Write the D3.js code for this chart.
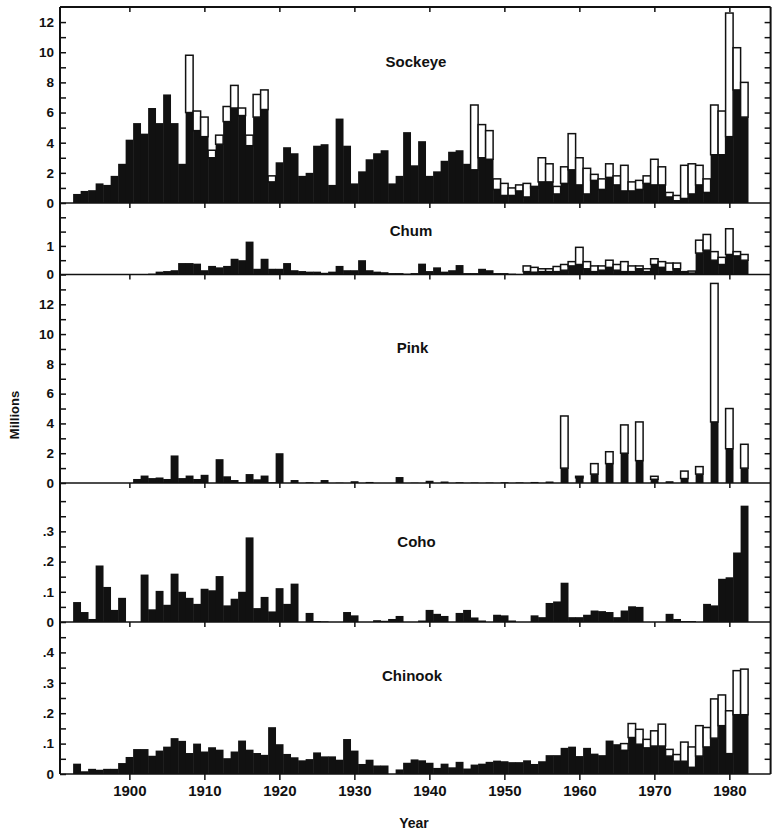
<!DOCTYPE html>
<html>
<head>
<meta charset="utf-8">
<script src="https://cdn.jsdelivr.net/npm/d3@7"></script>
<style>
  body { margin: 0; background: #fff; }
  text { font-family: "Liberation Sans", Arial, sans-serif; fill: #111; }
</style>
</head>
<body>
<svg id="chart" width="781" height="831"></svg>
<script>
// one bar per year, 1893-1982
const years = d3.range(1893, 1983);
const decades = [1900, 1910, 1920, 1930, 1940, 1950, 1960, 1970, 1980];

// black part of each bar, and total height (top of open box)
const sockeyeBlack = [
  0.6, 0.8, 0.85, 1.3, 1.2, 1.8, 2.6,
  4.2, 5.3, 4.6, 6.3, 5.3, 7.2, 5.3, 2.6, 6.0, 4.8,
  4.4, 3.0, 3.9, 5.4, 6.3, 5.8, 3.8, 5.7, 6.2, 1.4,
  2.7, 3.7, 3.3, 1.8, 2.0, 3.8, 3.9, 1.2, 5.6, 3.8,
  1.3, 2.1, 2.9, 3.3, 3.5, 1.3, 1.8, 4.7, 2.5, 4.1,
  1.8, 2.1, 2.8, 3.4, 3.5, 2.6, 2.2, 3.0, 2.9, 0.9,
  0.5, 0.5, 0.8, 0.4, 1.0, 1.4, 1.4, 0.6, 1.3, 2.2,
  1.2, 0.6, 1.5, 0.9, 1.7, 1.2, 0.8, 0.8, 0.9, 1.3,
  1.2, 1.2, 0.4, 0.15, 0.3, 0.6, 1.2, 0.7, 3.2, 3.2,
  4.4, 7.5, 5.7
];
const sockeyeTotal = [
  0.6, 0.8, 0.85, 1.3, 1.2, 1.8, 2.6,
  4.2, 5.3, 4.6, 6.3, 5.3, 7.2, 5.3, 2.6, 9.8, 6.1,
  5.7, 3.5, 4.5, 6.4, 7.8, 6.3, 4.5, 7.2, 7.5, 1.8,
  2.7, 3.7, 3.3, 1.8, 2.0, 3.8, 3.9, 1.2, 5.6, 3.8,
  1.3, 2.1, 2.9, 3.3, 3.5, 1.3, 1.8, 4.7, 2.5, 4.1,
  1.8, 2.1, 2.8, 3.4, 3.5, 2.6, 6.5, 5.2, 4.8, 1.6,
  1.3, 1.0, 1.2, 1.3, 1.1, 3.0, 2.6, 1.1, 2.4, 4.6,
  3.0, 2.3, 1.9, 1.6, 2.6, 1.8, 2.5, 1.4, 1.5, 1.8,
  2.9, 2.4, 0.7, 0.5, 2.5, 2.6, 2.5, 1.6, 6.5, 6.1,
  12.6, 10.3, 8.0
];

const chumBlack = [
  0, 0, 0, 0, 0, 0, 0,
  0, 0, 0, 0.03, 0.1, 0.12, 0.15, 0.4, 0.4, 0.38,
  0.15, 0.3, 0.25, 0.3, 0.55, 0.5, 1.15, 0.2, 0.55, 0.2,
  0.2, 0.4, 0.15, 0.12, 0.1, 0.1, 0.06, 0.1, 0.3, 0.15,
  0.15, 0.5, 0.15, 0.1, 0.08, 0.05, 0.05, 0.03, 0.05, 0.38,
  0.12, 0.25, 0.1, 0.15, 0.33, 0.05, 0.05, 0.2, 0.15, 0.05,
  0.05, 0.03, 0.02, 0.1, 0.08, 0.1, 0.1, 0.1, 0.15, 0.3,
  0.35, 0.2, 0.1, 0.15, 0.25, 0.15, 0.1, 0.1, 0.2, 0.1,
  0.35, 0.25, 0.1, 0.2, 0.05, 0.05, 0.75, 0.85, 0.5, 0.35,
  0.7, 0.65, 0.5
];
const chumTotal = [
  0, 0, 0, 0, 0, 0, 0,
  0, 0, 0, 0.03, 0.1, 0.12, 0.15, 0.4, 0.4, 0.38,
  0.15, 0.3, 0.25, 0.3, 0.55, 0.5, 1.15, 0.2, 0.55, 0.2,
  0.2, 0.4, 0.15, 0.12, 0.1, 0.1, 0.06, 0.1, 0.3, 0.15,
  0.15, 0.5, 0.15, 0.1, 0.08, 0.05, 0.05, 0.03, 0.05, 0.38,
  0.12, 0.25, 0.1, 0.15, 0.33, 0.05, 0.05, 0.2, 0.15, 0.05,
  0.05, 0.03, 0.02, 0.3, 0.25, 0.2, 0.2, 0.28, 0.35, 0.45,
  0.95, 0.45, 0.3, 0.3, 0.5, 0.35, 0.45, 0.3, 0.3, 0.2,
  0.55, 0.45, 0.4, 0.4, 0.1, 0.12, 1.2, 1.4, 0.8, 0.6,
  1.6, 0.8, 0.7
];

const pinkBlack = [
  0, 0, 0, 0, 0, 0, 0,
  0, 0.27, 0.5, 0.33, 0.37, 0.27, 1.85, 0.33, 0.5, 0.27,
  0.55, 0, 1.6, 0.45, 0.2, 0.05, 0.6, 0.25, 0.5, 0.05,
  2.0, 0, 0.2, 0, 0.05, 0, 0.2, 0, 0.02, 0,
  0.12, 0, 0.07, 0, 0, 0, 0.4, 0, 0.02, 0,
  0.15, 0, 0.1, 0, 0.05, 0, 0.03, 0, 0.03, 0,
  0.05, 0, 0.04, 0, 0.07, 0, 0.1, 0, 1.0, 0,
  0.35, 0, 0.6, 0, 1.3, 0, 2.0, 0, 1.5, 0,
  0.25, 0, 0.12, 0, 0.3, 0, 0.6, 0, 4.1, 0,
  2.3, 0, 1.0
];
const pinkTotal = [
  0, 0, 0, 0, 0, 0, 0,
  0, 0.27, 0.5, 0.33, 0.37, 0.27, 1.85, 0.33, 0.5, 0.27,
  0.55, 0, 1.6, 0.45, 0.2, 0.05, 0.6, 0.25, 0.5, 0.05,
  2.0, 0, 0.2, 0, 0.05, 0, 0.2, 0, 0.02, 0,
  0.12, 0, 0.07, 0, 0, 0, 0.4, 0, 0.02, 0,
  0.15, 0, 0.1, 0, 0.05, 0, 0.03, 0, 0.03, 0,
  0.05, 0, 0.04, 0, 0.07, 0, 0.1, 0, 4.5, 0,
  0.45, 0, 1.3, 0, 2.1, 0, 3.9, 0, 4.1, 0,
  0.45, 0, 0.12, 0, 0.8, 0, 1.1, 0, 13.4, 0,
  5.0, 0, 2.6
];

const cohoBlack = [
  0.066, 0.033, 0.01, 0.187, 0.116, 0.04, 0.08,
  0, 0, 0.157, 0.042, 0.103, 0.057, 0.16, 0.10, 0.08, 0.06,
  0.11, 0.105, 0.152, 0.055, 0.077, 0.10, 0.28, 0.046, 0.083, 0.035,
  0.112, 0.06, 0.127, 0, 0.03, 0.003, 0.002, 0, 0, 0.033,
  0.022, 0, 0, 0.006, 0.004, 0.01, 0.02, 0, 0, 0.005,
  0.04, 0.027, 0.02, 0, 0.03, 0.04, 0.015, 0.005, 0, 0.024,
  0.022, 0.005, 0, 0, 0.022, 0.016, 0.063, 0.068, 0.13, 0.016,
  0.016, 0.024, 0.038, 0.036, 0.033, 0.016, 0.038, 0.052, 0.05, 0,
  0, 0, 0.027, 0.01, 0.003, 0.003, 0, 0.06, 0.055, 0.143,
  0.148, 0.23, 0.385
];
const cohoTotal = cohoBlack;

const chinookBlack = [
  0.034, 0.009, 0.017, 0.014, 0.017, 0.017, 0.036,
  0.056, 0.082, 0.082, 0.06, 0.077, 0.09, 0.118, 0.109, 0.069, 0.10,
  0.074, 0.088, 0.08, 0.052, 0.074, 0.11, 0.08, 0.069, 0.063, 0.154,
  0.098, 0.066, 0.055, 0.045, 0.049, 0.071, 0.058, 0.058, 0.047, 0.115,
  0.077, 0.033, 0.047, 0.028, 0.028, 0, 0.015, 0.037, 0.048, 0.045,
  0.037, 0.02, 0.034, 0.022, 0.04, 0.018, 0.031, 0.034, 0.04, 0.044,
  0.042, 0.039, 0.039, 0.045, 0.033, 0.042, 0.062, 0.062, 0.086, 0.09,
  0.059, 0.086, 0.067, 0.062, 0.11, 0.098, 0.078, 0.12, 0.098, 0.086,
  0.092, 0.092, 0.059, 0.042, 0.042, 0.022, 0.059, 0.089, 0.118, 0.159,
  0.067, 0.195, 0.195
];
const chinookTotal = [
  0.034, 0.009, 0.017, 0.014, 0.017, 0.017, 0.036,
  0.056, 0.082, 0.082, 0.06, 0.077, 0.09, 0.118, 0.109, 0.069, 0.10,
  0.074, 0.088, 0.08, 0.052, 0.074, 0.11, 0.08, 0.069, 0.063, 0.154,
  0.098, 0.066, 0.055, 0.045, 0.049, 0.071, 0.058, 0.058, 0.047, 0.115,
  0.077, 0.033, 0.047, 0.028, 0.028, 0, 0.015, 0.037, 0.048, 0.045,
  0.037, 0.02, 0.034, 0.022, 0.04, 0.018, 0.031, 0.034, 0.04, 0.044,
  0.042, 0.039, 0.039, 0.045, 0.033, 0.042, 0.062, 0.062, 0.086, 0.09,
  0.059, 0.086, 0.067, 0.062, 0.11, 0.098, 0.1, 0.166, 0.147, 0.114,
  0.142, 0.164, 0.081, 0.064, 0.105, 0.089, 0.159, 0.153, 0.247, 0.26,
  0.208, 0.34, 0.345
];

// y tick positions and which of them carry a label
const sockeyeTicks = [0, 1, 2, 3, 4, 5, 6, 7, 8, 9, 10, 11, 12];
const sockeyeLabels = [0, 2, 4, 6, 8, 10, 12];
const chumTicks = [0, 0.5, 1, 1.5, 2];
const chumLabels = [0, 1];
const pinkTicks = [0, 1, 2, 3, 4, 5, 6, 7, 8, 9, 10, 11, 12, 13];
const pinkLabels = [0, 2, 4, 6, 8, 10, 12];
const cohoTicks = [0, 0.05, 0.1, 0.15, 0.2, 0.25, 0.3, 0.35, 0.4];
const cohoLabels = [0, 0.1, 0.2, 0.3];
const chinookTicks = [0, 0.05, 0.1, 0.15, 0.2, 0.25, 0.3, 0.35, 0.4, 0.45];
const chinookLabels = [0, 0.1, 0.2, 0.3, 0.4];

const svg = d3.select("#chart");
const xLeft = 60, xRight = 770.6, bottom = 774;
const ink = "#111";

const x = d3.scaleLinear().domain([1890.75, 1985.5]).range([xLeft, xRight]);

const intFmt = d => String(d);
const decFmt = d => (d === 0 ? "0" : d3.format(".1f")(d).replace(/^0/, ""));

const panels = [
  { name: "Sockeye", black: sockeyeBlack, total: sockeyeTotal, max: 13, top: 7, base: 203,
    ticks: sockeyeTicks, labels: sockeyeLabels, fmt: intFmt, tx: 416, ty: 66.5 },
  { name: "Chum", black: chumBlack, total: chumTotal, max: 2.5, top: 203, base: 274.5,
    ticks: chumTicks, labels: chumLabels, fmt: intFmt, tx: 411, ty: 235.5 },
  { name: "Pink", black: pinkBlack, total: pinkTotal, max: 14, top: 274.5, base: 483,
    ticks: pinkTicks, labels: pinkLabels, fmt: intFmt, tx: 412.5, ty: 352.5 },
  { name: "Coho", black: cohoBlack, total: cohoTotal, max: 0.46, top: 483, base: 622,
    ticks: cohoTicks, labels: cohoLabels, fmt: decFmt, tx: 416.5, ty: 546.5 },
  { name: "Chinook", black: chinookBlack, total: chinookTotal, max: 0.5, top: 622, base: bottom,
    ticks: chinookTicks, labels: chinookLabels, fmt: decFmt, tx: 412, ty: 680.5 }
];

panels.forEach(function (p) {
  const y = d3.scaleLinear().domain([0, p.max]).range([p.base, p.top]);
  const rows = years.map((yr, i) => ({ yr: yr, b: p.black[i], t: p.total[i] }));
  const g = svg.append("g");

  // solid part
  g.selectAll(".solid")
    .data(rows.filter(d => d.b > 0))
    .enter()
    .append("rect")
    .attr("x", d => x(d.yr - 0.5))
    .attr("y", d => y(d.b))
    .attr("width", d => x(d.yr + 0.5) - x(d.yr - 0.5) + 0.4)
    .attr("height", d => p.base - y(d.b))
    .attr("fill", ink);

  // open part on top
  g.selectAll(".open")
    .data(rows.filter(d => d.t - d.b > 0.0001))
    .enter()
    .append("rect")
    .attr("x", d => x(d.yr - 0.5))
    .attr("y", d => y(d.t))
    .attr("width", d => x(d.yr + 0.5) - x(d.yr - 0.5))
    .attr("height", d => y(d.b) - y(d.t))
    .attr("fill", "#fff")
    .attr("stroke", ink)
    .attr("stroke-width", 1.5);

  // left axis, ticks pointing in
  const left = g.append("g")
    .attr("transform", `translate(${xLeft},0)`)
    .call(d3.axisLeft(y)
      .tickValues(p.ticks)
      .tickSize(-6)
      .tickPadding(6)
      .tickFormat(d => (p.labels.includes(d) ? p.fmt(d) : "")));
  left.select(".domain").remove();

  // right frame ticks
  const right = g.append("g")
    .attr("transform", `translate(${xRight},0)`)
    .call(d3.axisRight(y).tickValues(p.ticks.filter(d => d > 0)).tickSize(-6).tickFormat(""));
  right.select(".domain").remove();

  // decade ticks hanging from the top of each panel
  const topAx = g.append("g")
    .attr("transform", `translate(0,${p.top})`)
    .call(d3.axisTop(x).tickValues(decades).tickSize(-5).tickFormat(""));
  topAx.select(".domain").remove();

  [left, right, topAx].forEach(a => {
    a.selectAll("line").attr("stroke", ink).attr("stroke-width", 1.5);
  });
  left.selectAll("text")
    .attr("font-size", 13.5)
    .attr("font-weight", "bold")
    .attr("font-family", "Liberation Sans, Arial, sans-serif")
    .attr("fill", ink);

  // panel title
  g.append("text")
    .attr("x", p.tx)
    .attr("y", p.ty)
    .attr("text-anchor", "middle")
    .attr("font-size", 15)
    .attr("font-weight", "bold")
    .text(p.name);

  // separator / baseline
  g.append("line")
    .attr("x1", xLeft).attr("x2", xRight)
    .attr("y1", p.base).attr("y2", p.base)
    .attr("stroke", ink)
    .attr("stroke-width", 1.6);
});

// year axis
const xAxis = svg.append("g")
  .attr("transform", `translate(0,${bottom})`)
  .call(d3.axisBottom(x).tickValues(decades).tickSize(6).tickPadding(5).tickFormat(d3.format("d")));
xAxis.select(".domain").remove();
xAxis.selectAll("line").attr("stroke", ink).attr("stroke-width", 1.5);
xAxis.selectAll("text")
  .attr("font-size", 15)
  .attr("font-weight", "bold")
  .attr("font-family", "Liberation Sans, Arial, sans-serif")
  .attr("fill", ink);

// outer frame
svg.append("line").attr("x1", xLeft).attr("x2", xRight).attr("y1", 7).attr("y2", 7)
  .attr("stroke", ink).attr("stroke-width", 1.8);
svg.append("line").attr("x1", xLeft).attr("x2", xLeft).attr("y1", 7).attr("y2", bottom)
  .attr("stroke", ink).attr("stroke-width", 2);
svg.append("line").attr("x1", xRight).attr("x2", xRight).attr("y1", 7).attr("y2", bottom)
  .attr("stroke", ink).attr("stroke-width", 2);

// axis titles
svg.append("text")
  .attr("x", 414)
  .attr("y", 828)
  .attr("text-anchor", "middle")
  .attr("font-size", 14)
  .attr("font-weight", "bold")
  .text("Year");

svg.append("text")
  .attr("transform", "translate(19,415) rotate(-90)")
  .attr("text-anchor", "middle")
  .attr("font-size", 13)
  .attr("font-weight", "bold")
  .text("Millions");
</script>
</body>
</html>
